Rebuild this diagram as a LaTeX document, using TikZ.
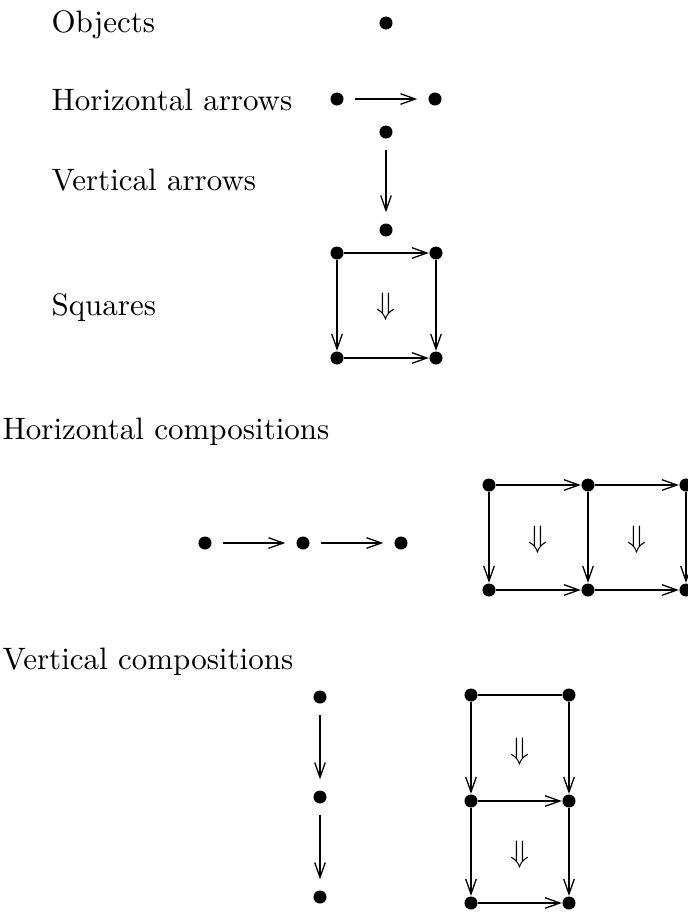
\documentclass[tikz,border=0pt]{standalone}
\usetikzlibrary{arrows.meta}
\begin{document}
\begin{tikzpicture}[x=0.3226pt,y=-0.3226pt,
  dot/.style={circle,fill=black,inner sep=0pt,minimum size=4.2pt},
  lbl/.style={anchor=base west,inner sep=0pt,font=\fontsize{10}{12}\selectfont},
  cell/.style={inner sep=0pt,font=\fontsize{10}{12}\selectfont},
  ar/.style={line width=0.42pt,-{Straight Barb[length=4.8pt,width=3.4pt]}},
  pl/.style={line width=0.42pt},
  gap/.style={shorten <=3.4pt,shorten >=3.4pt}]
\useasboundingbox (0,0) rectangle (688,915);
% labels
\node[lbl] (t1) at (51,32) {Objects};
\node[lbl] (t2) at (51,110) {Horizontal arrows};
\node[lbl] (t3) at (51,190) {Vertical arrows};
\node[lbl] (t4) at (51,315) {Squares};
\node[lbl] (t5) at (2,439) {Horizontal compositions};
\node[lbl] (t6) at (2,669) {Vertical compositions};
% objects
\node[dot] (o) at (386,23) {};
% horizontal arrow
\node[dot] (h1) at (337,99) {};
\node[dot] (h2) at (435,99) {};
\draw[ar,gap] (h1) -- (h2);
% vertical arrow
\node[dot] (v1) at (386,132) {};
\node[dot] (v2) at (386,230) {};
\draw[ar,gap] (v1) -- (v2);
% square
\node[dot] (s1) at (337,253) {};
\node[dot] (s2) at (436,253) {};
\node[dot] (s3) at (337,358) {};
\node[dot] (s4) at (436,358) {};
\draw[ar] (s1) -- (s2);
\draw[ar] (s3) -- (s4);
\draw[ar] (s1) -- (s3);
\draw[ar] (s2) -- (s4);
\node[cell] (sc) at (386,307) {$\Downarrow$};
% horizontal composition of arrows
\node[dot] (c1) at (205,543) {};
\node[dot] (c2) at (303,543) {};
\node[dot] (c3) at (401,543) {};
\draw[ar,gap] (c1) -- (c2);
\draw[ar,gap] (c2) -- (c3);
% horizontal composition of squares
\node[dot] (p1) at (489,485) {};
\node[dot] (p2) at (588,485) {};
\node[dot] (p3) at (686,485) {};
\node[dot] (q1) at (489,590) {};
\node[dot] (q2) at (588,590) {};
\node[dot] (q3) at (686,590) {};
\draw[ar] (p1) -- (p2);
\draw[ar] (p2) -- (p3);
\draw[ar] (q1) -- (q2);
\draw[ar] (q2) -- (q3);
\draw[ar] (p1) -- (q1);
\draw[ar] (p2) -- (q2);
\draw[ar] (p3) -- (q3);
\node[cell] (pc1) at (538,540) {$\Downarrow$};
\node[cell] (pc2) at (637,540) {$\Downarrow$};
% vertical composition of arrows
\node[dot] (w1) at (320,697) {};
\node[dot] (w2) at (320,797) {};
\node[dot] (w3) at (320,897) {};
\draw[ar,gap] (w1) -- (w2);
\draw[ar,gap] (w2) -- (w3);
% vertical composition of squares
\node[dot] (r1) at (471,695) {};
\node[dot] (r2) at (569,695) {};
\node[dot] (r3) at (471,801) {};
\node[dot] (r4) at (569,801) {};
\node[dot] (r5) at (471,903) {};
\node[dot] (r6) at (569,903) {};
\draw[pl] (r1) -- (r2);
\draw[ar] (r3) -- (r4);
\draw[ar] (r5) -- (r6);
\draw[ar] (r1) -- (r3);
\draw[ar] (r2) -- (r4);
\draw[ar] (r3) -- (r5);
\draw[ar] (r4) -- (r6);
\node[cell] (rc1) at (520,752) {$\Downarrow$};
\node[cell] (rc2) at (520,855) {$\Downarrow$};
\end{tikzpicture}
\end{document}
